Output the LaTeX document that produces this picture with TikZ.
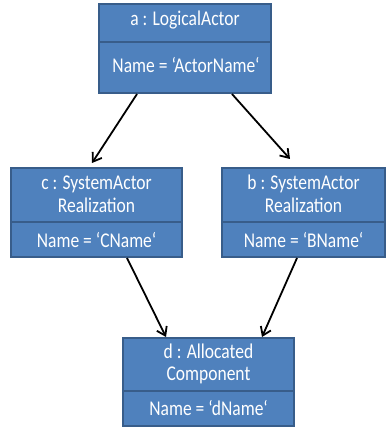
\documentclass[tikz,border=0pt]{standalone}
\usepackage{graphicx}
\usepackage{fontspec}
\setmainfont{Carlito}
\usetikzlibrary{arrows.meta,calc}
\definecolor{boxfill}{HTML}{4F81BD}
\definecolor{boxline}{HTML}{385D8A}
\newcommand{\vstr}[1]{\scalebox{1}[1.2]{#1}}
\tikzset{
  umlbox/.style={draw=boxline, fill=boxfill, line width=1.5pt, inner sep=0pt},
  divider/.style={draw=boxline, line width=1.5pt},
  lbl/.style={text=white, font=\fontsize{17.5}{21}\selectfont, anchor=base, inner sep=0pt},
  conn/.style={draw=black, line width=1.8pt, -{Straight Barb[length=8pt,width=11pt,line width=1.8pt]}}
}
\begin{document}
\begin{tikzpicture}[x=1pt,y=-1pt]
\useasboundingbox (0,0) rectangle (388,427);
% box a
\node[umlbox, minimum width=172pt, minimum height=89pt] (a) at (185,48.5) {};
\draw[divider] (99,42) -- (271,42);
\node[lbl] (a1) at (185,26) {\vstr{a : LogicalActor}};
\node[lbl] (a2) at (186,73) {\vstr{Name = ‘ActorName‘}};
% box c
\node[umlbox, minimum width=171pt, minimum height=89pt] (c) at (96.5,212.5) {};
\draw[divider] (11,222) -- (182,222);
\node[lbl] (c1) at (96.5,190) {\vstr{c : SystemActor}};
\node[lbl] (c1b) at (96.5,212) {\vstr{Realization}};
\node[lbl] (c2) at (96.5,247) {\vstr{Name = ‘CName‘}};
% box b
\node[umlbox, minimum width=163pt, minimum height=89pt] (b) at (303.5,212.5) {};
\draw[divider] (222,222) -- (385,222);
\node[lbl] (b1) at (303.5,190) {\vstr{b : SystemActor}};
\node[lbl] (b1b) at (303.5,212) {\vstr{Realization}};
\node[lbl] (b2) at (303.5,247) {\vstr{Name = ‘BName‘}};
% box d
\node[umlbox, minimum width=171pt, minimum height=88pt] (d) at (208.5,382) {};
\draw[divider] (123,391) -- (294,391);
\node[lbl] (d1) at (208.5,358) {\vstr{d : Allocated}};
\node[lbl] (d1b) at (208.5,380) {\vstr{Component}};
\node[lbl] (d2) at (208.5,415) {\vstr{Name = ‘dName‘}};
% connector endpoints
\coordinate (ac0) at (137,94);
\coordinate (ac1) at (92,163);
\coordinate (ab0) at (232,94);
\coordinate (ab1) at (290,159);
\coordinate (cd0) at (127,258);
\coordinate (cd1) at (166,337);
\coordinate (bd0) at (297,258);
\coordinate (bd1) at (262,337);
\draw[conn] (ac0) -- (ac1);
\draw[conn] (ab0) -- (ab1);
\draw[conn] (cd0) -- (cd1);
\draw[conn] (bd0) -- (bd1);
\end{tikzpicture}
\end{document}
